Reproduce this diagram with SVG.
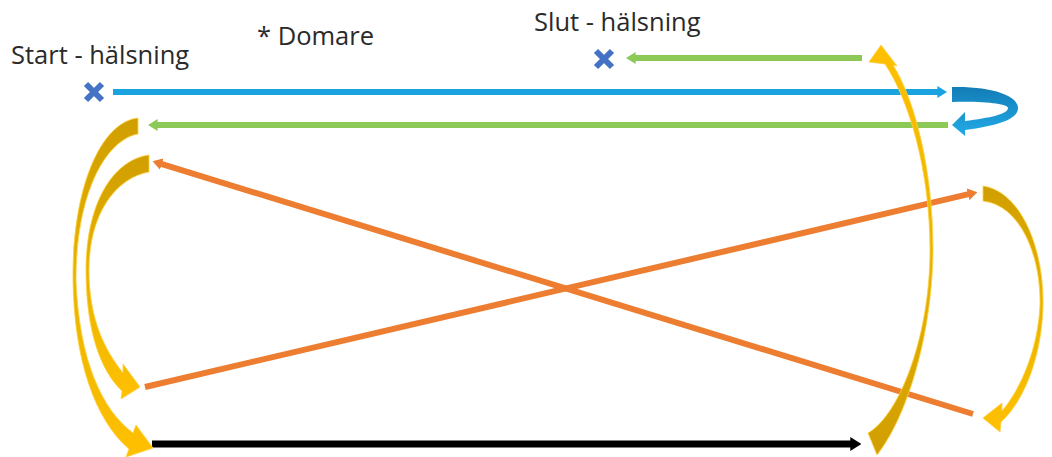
<svg xmlns="http://www.w3.org/2000/svg" width="1052" height="457" viewBox="0 0 1052 457">
<style>
  .lbl { font-family: "Open Sans", "Liberation Sans", sans-serif; font-size: 25.5px; fill: #2a2a2a; }
  .cross { stroke: #4472c4; stroke-width: 6; fill: none; }
  .ln { fill: none; stroke-width: 6; }
  .blue { stroke: #1ba3df; }
  .green { stroke: #8cc957; }
  .orange { stroke: #ed7d31; }
  .black { stroke: #000; stroke-width: 7; }
  .gold { stroke: #ffd040; stroke-width: 0.8; }
</style>
<defs>
  <marker id="hBlue" viewBox="0 0 1.6 2" refX="0.1" refY="1" markerWidth="1.6" markerHeight="2" orient="auto" markerUnits="strokeWidth"><path d="M0,0 L1.6,1 L0,2 Z" fill="#1ba3df"/></marker>
  <marker id="hGreen" viewBox="0 0 1.6 2" refX="0.1" refY="1" markerWidth="1.6" markerHeight="2" orient="auto" markerUnits="strokeWidth"><path d="M0,0 L1.6,1 L0,2 Z" fill="#8cc957"/></marker>
  <marker id="hOrange" viewBox="0 0 1.6 2" refX="0.1" refY="1" markerWidth="1.6" markerHeight="2" orient="auto" markerUnits="strokeWidth"><path d="M0,0 L1.6,1 L0,2 Z" fill="#ed7d31"/></marker>
  <marker id="hBlack" viewBox="0 0 1.6 2" refX="0.1" refY="1" markerWidth="1.6" markerHeight="2" orient="auto" markerUnits="strokeWidth"><path d="M0,0 L1.6,1 L0,2 Z" fill="#000"/></marker>
  <linearGradient id="gDown" x1="0" y1="0" x2="0" y2="1">
    <stop offset="0" stop-color="#d09e00"/><stop offset="0.5" stop-color="#e8b400"/><stop offset="1" stop-color="#ffc000"/>
  </linearGradient>
  <linearGradient id="gUp" x1="0" y1="1" x2="0" y2="0">
    <stop offset="0" stop-color="#d09e00"/><stop offset="0.5" stop-color="#e8b400"/><stop offset="1" stop-color="#ffc000"/>
  </linearGradient>
  <linearGradient id="gBlueU" x1="0" y1="0" x2="0" y2="1">
    <stop offset="0" stop-color="#137cb5"/><stop offset="1" stop-color="#22abe8"/>
  </linearGradient>
</defs>

<g id="label-start"><text class="lbl" x="11" y="64">Start - hälsning</text></g>
<g id="label-domare"><text class="lbl" x="257" y="45">* Domare</text></g>
<g id="label-slut"><text class="lbl" x="534" y="31">Slut - hälsning</text></g>

<g id="cross-start"><path class="cross" d="M86,84 L102,100 M102,84 L86,100"/></g>
<g id="cross-slut"><path class="cross" d="M596,51 L612,67 M612,51 L596,67"/></g>

<g id="connectors">
  <line class="ln blue" x1="113" y1="92" x2="938" y2="92" marker-end="url(#hBlue)"/>
  <line class="ln green" x1="862" y1="58" x2="635" y2="58" marker-end="url(#hGreen)"/>
  <line class="ln green" x1="948" y1="125" x2="157" y2="125" marker-end="url(#hGreen)"/>
  <line class="ln orange" x1="145" y1="387" x2="968.6" y2="194.2" marker-end="url(#hOrange)"/>
  <line class="ln orange" x1="973" y1="414" x2="161.2" y2="163.8" marker-end="url(#hOrange)"/>
  <line class="ln black" x1="152" y1="444" x2="851" y2="444" marker-end="url(#hBlack)"/>

  <path id="uturn" fill="url(#gBlueU)" d="M952,87 C990,86 1018,95 1018,108 C1018,120 995,126 965,130 L965,136 L952,125 L965,112 L965,121 C990,118 1008,114 1008,108 C1008,104 985,101 952,102 Z"/>

  <path id="curveA" class="gold" fill="url(#gDown)" d="M138,118 C100,122 72,190 73,280 C74,360 95,420 129,449 L126,457 L153,448 L136,425 L133,433 C102,410 79,360 76,280 C76,195 105,140 138,134 Z"/>
  <path id="curveB" class="gold" fill="url(#gDown)" d="M149,155 C112,160 86,205 86,270 C86,330 100,370 122,391 L121,399 L140,387 L123,364 L123,373 C105,350 89,320 89,270 C89,215 115,178 149,172 Z"/>
  <path id="curveC" class="gold" fill="url(#gUp)" d="M868,433 C900,415 930,335 930,250 C930,170 909,100 885,64 L869,62 L881,45 L897,66 L893,65 C915,100 933,170 933,250 C932,340 905,420 877,455 Z"/>
  <path id="curveD" class="gold" fill="url(#gDown)" d="M983,186 C1022,192 1044,250 1043,305 C1042,355 1025,400 1001,422 L1000,432 L983,418 L1002,403 L1002,411 C1020,390 1038,350 1040,305 C1041,255 1020,205 983,201 Z"/>
</g>
</svg>
